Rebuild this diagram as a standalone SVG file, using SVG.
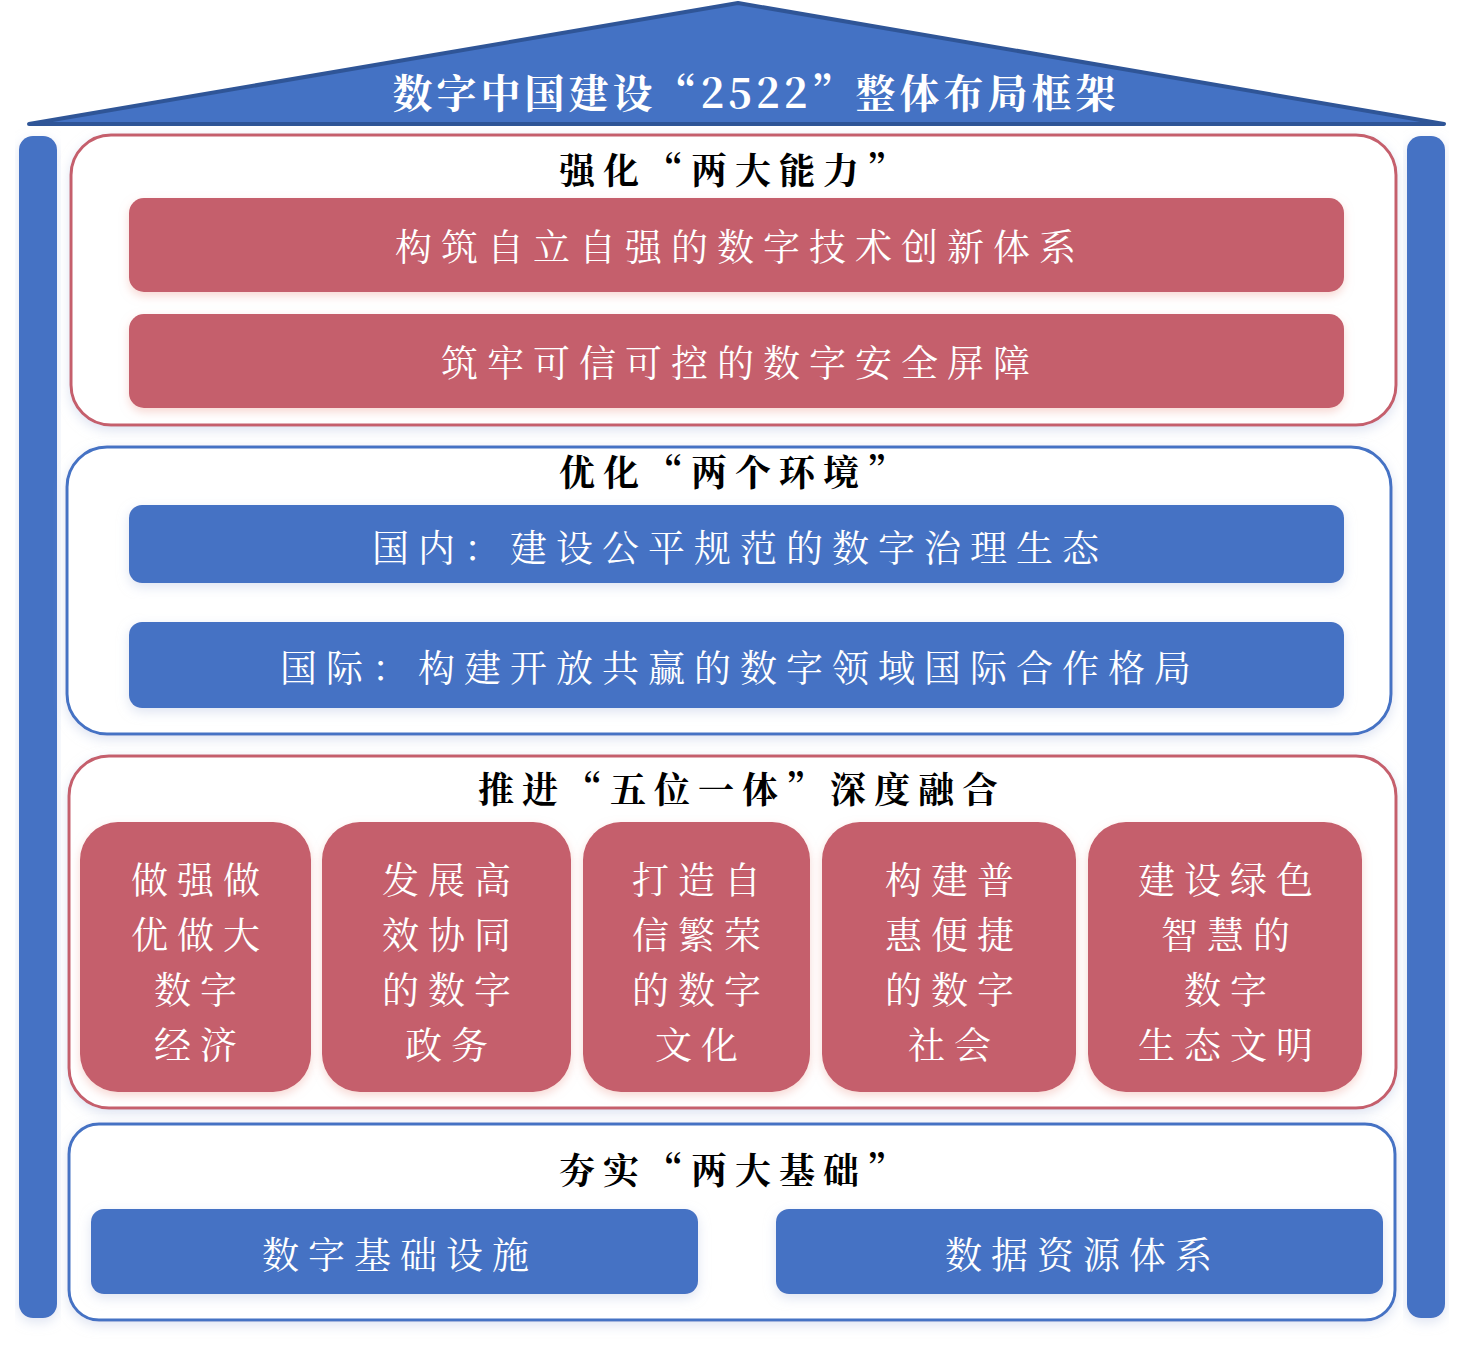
<svg xmlns="http://www.w3.org/2000/svg" width="1465" height="1358" viewBox="0 0 1465 1358">
<defs>
<filter id="sh" x="-10%" y="-10%" width="120%" height="130%"><feDropShadow dx="0" dy="4" stdDeviation="6" flood-color="#c8d0e8" flood-opacity="0.6"/></filter>
<filter id="shr" x="-10%" y="-10%" width="120%" height="130%"><feDropShadow dx="0" dy="4" stdDeviation="5" flood-color="#f0b0a8" flood-opacity="0.5"/></filter>
</defs>
<style>
text{font-family:"Noto Serif CJK SC","Noto Sans CJK SC",sans-serif;text-anchor:middle;dominant-baseline:central}
.h{font-size:36px;fill:#000;font-weight:bold;letter-spacing:8px}
.w{font-size:37px;fill:#fff;letter-spacing:9px}
.red{fill:#C55E6C}
.blue{fill:#4472C4}
.ro{fill:#fff;stroke:#C55E6C;stroke-width:3}
.bo{fill:#fff;stroke:#4472C4;stroke-width:3}
</style>
<rect width="1465" height="1358" fill="#fff"/>
<g id="roof">
<polygon points="29,124 738,3 1444,124" fill="#4472C4" stroke="#2F5597" stroke-width="4" stroke-linejoin="round"/>
<text x="756" y="90" style="font-size:40px;fill:#fff;font-weight:bold;letter-spacing:4px">数字中国建设“2522”整体布局框架</text>
</g>
<g id="pillars">
<rect x="19" y="136" width="38" height="1182" rx="14" class="blue" filter="url(#sh)"/>
<rect x="1407" y="136" width="38" height="1182" rx="14" class="blue" filter="url(#sh)"/>
</g>
<g id="s1">
<rect x="71" y="135" width="1325" height="290" rx="40" class="ro" filter="url(#sh)"/>
<text x="735" y="168" class="h">强化“两大能力”</text>
<rect x="129" y="198" width="1215" height="94" rx="15" class="red" filter="url(#shr)"/>
<text x="740" y="245" class="w">构筑自立自强的数字技术创新体系</text>
<rect x="129" y="314" width="1215" height="94" rx="15" class="red" filter="url(#shr)"/>
<text x="740" y="361" class="w">筑牢可信可控的数字安全屏障</text>
</g>
<g id="s2">
<rect x="67" y="447" width="1324" height="287" rx="40" class="bo" filter="url(#sh)"/>
<text x="735" y="470" class="h">优化“两个环境”</text>
<rect x="129" y="505" width="1215" height="78" rx="13" class="blue" filter="url(#sh)"/>
<text x="740" y="546" class="w">国内：建设公平规范的数字治理生态</text>
<rect x="129" y="622" width="1215" height="86" rx="13" class="blue" filter="url(#sh)"/>
<text x="740" y="666" class="w">国际：构建开放共赢的数字领域国际合作格局</text>
</g>
<g id="s3">
<rect x="69" y="756" width="1327" height="352" rx="40" class="ro" filter="url(#sh)"/>
<text x="742" y="787" class="h">推进“五位一体”深度融合</text>
<g id="b1"><rect x="80" y="822" width="231" height="270" rx="38" class="red" filter="url(#shr)"/>
<text x="200" y="878" class="w">做强做</text><text x="200" y="933" class="w">优做大</text><text x="200" y="988" class="w">数字</text><text x="200" y="1043" class="w">经济</text></g>
<g id="b2"><rect x="322" y="822" width="249" height="270" rx="38" class="red" filter="url(#shr)"/>
<text x="451" y="878" class="w">发展高</text><text x="451" y="933" class="w">效协同</text><text x="451" y="988" class="w">的数字</text><text x="451" y="1043" class="w">政务</text></g>
<g id="b3"><rect x="583" y="822" width="227" height="270" rx="38" class="red" filter="url(#shr)"/>
<text x="701" y="878" class="w">打造自</text><text x="701" y="933" class="w">信繁荣</text><text x="701" y="988" class="w">的数字</text><text x="701" y="1043" class="w">文化</text></g>
<g id="b4"><rect x="822" y="822" width="254" height="270" rx="38" class="red" filter="url(#shr)"/>
<text x="954" y="878" class="w">构建普</text><text x="954" y="933" class="w">惠便捷</text><text x="954" y="988" class="w">的数字</text><text x="954" y="1043" class="w">社会</text></g>
<g id="b5"><rect x="1088" y="822" width="274" height="270" rx="38" class="red" filter="url(#shr)"/>
<text x="1230" y="878" class="w">建设绿色</text><text x="1230" y="933" class="w">智慧的</text><text x="1230" y="988" class="w">数字</text><text x="1230" y="1043" class="w">生态文明</text></g>
</g>
<g id="s4">
<rect x="69" y="1124" width="1326" height="196" rx="30" class="bo" filter="url(#sh)"/>
<text x="735" y="1168" class="h">夯实“两大基础”</text>
<rect x="91" y="1209" width="607" height="85" rx="13" class="blue" filter="url(#sh)"/>
<text x="400" y="1253" class="w">数字基础设施</text>
<rect x="776" y="1209" width="607" height="85" rx="13" class="blue" filter="url(#sh)"/>
<text x="1083" y="1253" class="w">数据资源体系</text>
</g>
</svg>
